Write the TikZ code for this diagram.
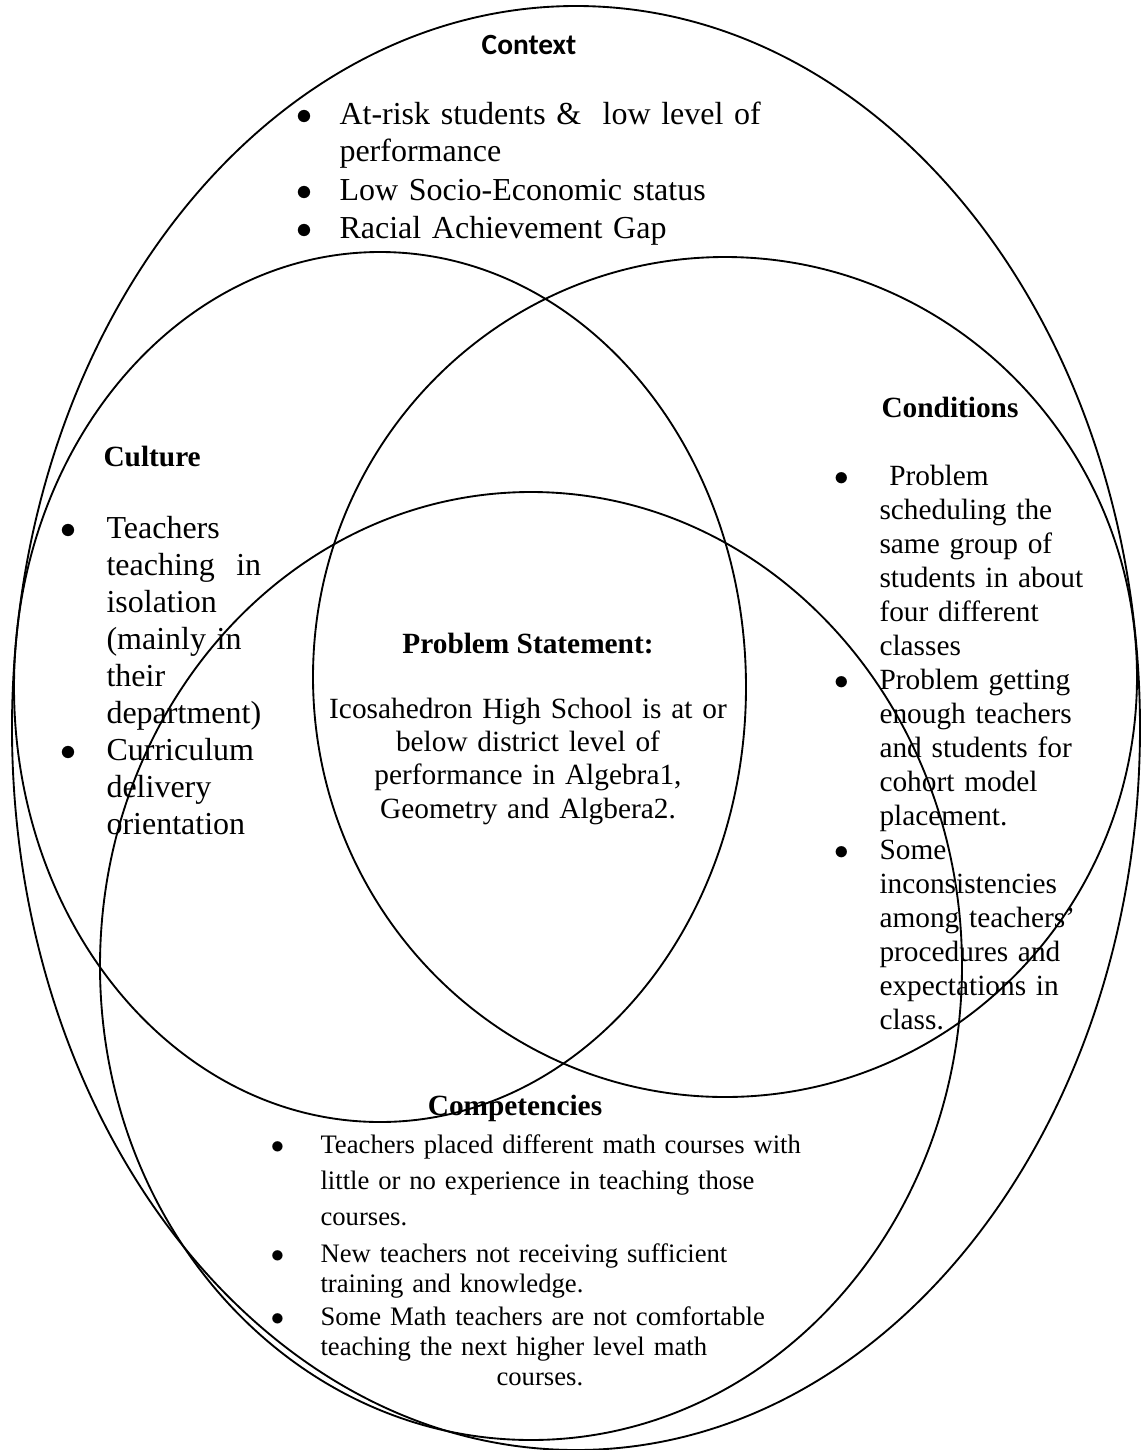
\documentclass[tikz,border=0pt]{standalone}
\usepackage{fontspec}
\setmainfont{Liberation Serif}
\newfontfamily\calibri{Carlito}
\newcommand{\bul}[1]{\leavevmode\llap{$\bullet$\hspace{#1}}}

\begin{document}
\begin{tikzpicture}[x=0.375pt,y=-0.375pt]
    \tikzstyle{venn} = [line width=0.7pt]
    \tikzstyle{heading} = [inner sep=0, anchor=base, font=\bfseries\fontsize{11}{13}\selectfont]
    \tikzstyle{bullets} = [inner sep=0, anchor=base west, text width=200pt, align=left]
        \useasboundingbox (0,0) rectangle (1141,1450);
        % sets
        \draw[venn] (576,728) ellipse (211.5pt and 270.75pt);
        \draw[venn] (380,687) ellipse (137.25pt and 163.125pt);
        \draw[venn] (725,677) ellipse (154.5pt and 157.5pt);
        \draw[venn] (531,966) ellipse (161.625pt and 177.75pt);
        % context
        \node[heading,font=\calibri\bfseries\fontsize{11}{13}\selectfont] (context) at (529,54) {Context};
        \node[bullets,font=\fontsize{12}{13.9}\selectfont] (ctx1) at (339,124) {\bul{10.1pt}At-risk students \&\ \ low level of\\performance};
        \node[bullets,font=\fontsize{12}{13.9}\selectfont] (ctx2) at (339,200) {\bul{10.1pt}Low Socio-Economic status};
        \node[bullets,font=\fontsize{12}{13.9}\selectfont] (ctx3) at (339,238) {\bul{10.1pt}Racial Achievement Gap};
        % culture
        \node[heading,anchor=base west] (culture) at (103,466) {Culture};
        \node[bullets,font=\fontsize{12}{13.9}\selectfont] (cul1) at (106,538) {\bul{11.3pt}Teachers\\teaching\ \ in\\isolation\\(mainly in\\their\\department)};
        \node[bullets,font=\fontsize{12}{13.9}\selectfont] (cul2) at (106,760) {\bul{11.3pt}Curriculum\\delivery\\orientation};
        % conditions
        \node[heading,anchor=base west] (conditions) at (881,417) {Conditions};
        \node[bullets,font=\fontsize{11}{12.75}\selectfont] (con1) at (879,485) {\bul{11.5pt}\ Problem\\scheduling the\\same group of\\students in about\\four different\\classes};
        \node[bullets,font=\fontsize{11}{12.75}\selectfont] (con2) at (879,689) {\bul{11.5pt}Problem getting\\enough teachers\\and students for\\cohort model\\placement.};
        \node[bullets,font=\fontsize{11}{12.75}\selectfont] (con3) at (879,859) {\bul{11.5pt}Some\\inconsistencies\\among teachers’\\procedures and\\expectations in\\class.};
        % problem statement
        \node[heading] (problem) at (528,653) {Problem Statement:};
        \node[inner sep=0, anchor=base, text width=170pt, align=center, font=\fontsize{11}{12.5}\selectfont] (statement) at (528,718) {Icosahedron High School is at or\\below district level of\\performance in Algebra1,\\Geometry and Algbera2.};
        % competencies
        \node[heading] (competencies) at (515,1115) {Competencies};
        \node[bullets,font=\fontsize{10}{13.5}\selectfont] (com1) at (320,1153) {\bul{13.6pt}Teachers placed different math courses with\\little or no experience in teaching those\\courses.};
        \node[bullets,font=\fontsize{10}{11.25}\selectfont] (com2) at (320,1262) {\bul{13.6pt}New teachers not receiving sufficient\\training and knowledge.};
        \node[bullets,font=\fontsize{10}{11.25}\selectfont] (com3) at (320,1325) {\bul{13.6pt}Some Math teachers are not comfortable\\teaching the next higher level math\\\hspace*{66pt}courses.};
    \end{tikzpicture}
\end{document}
